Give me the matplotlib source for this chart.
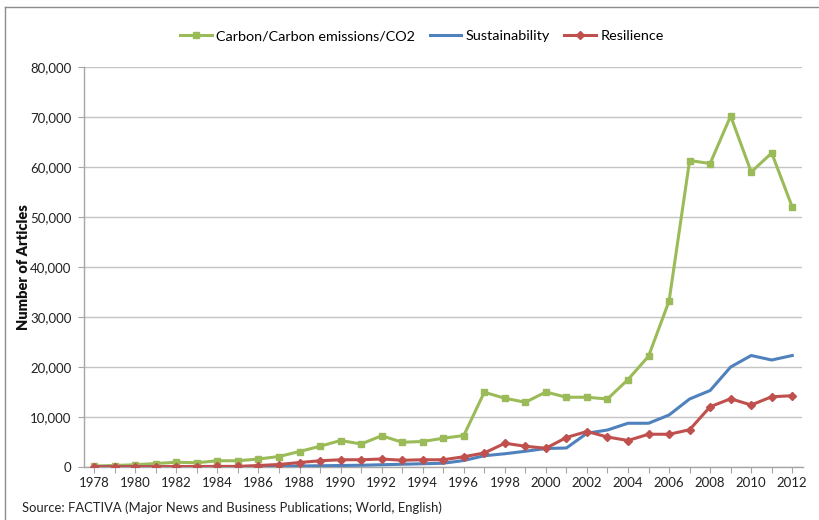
import matplotlib
matplotlib.use("Agg")
import matplotlib.pyplot as plt
from matplotlib.lines import Line2D
from matplotlib.ticker import FuncFormatter, FixedLocator

plt.rcParams['font.family'] = ['Lato', 'DejaVu Sans']

years = list(range(1978, 2013))

carbon = [200, 300, 450, 700, 950, 850, 1250, 1250, 1600, 2100, 3100, 4150, 5300, 4600,
          6250, 4950, 5100, 5750, 6300, 14950, 13750, 12950, 15000, 13950, 13950, 13600,
          17500, 22150, 33200, 61300, 60700, 70200, 59000, 62800, 52000]
sustainability = [50, 50, 50, 50, 50, 50, 60, 70, 100, 150, 200, 250, 300, 350,
                  450, 550, 650, 750, 1300, 2250, 2650, 3150, 3700, 3800, 6750, 7400,
                  8750, 8750, 10400, 13600, 15300, 20000, 22300, 21400, 22300]
resilience = [50, 50, 60, 70, 100, 100, 120, 120, 300, 500, 900, 1250, 1450, 1450,
              1600, 1350, 1450, 1450, 2050, 2800, 4750, 4150, 3750, 5900, 7100, 6000,
              5300, 6550, 6550, 7450, 12050, 13650, 12400, 14050, 14250]

series_names = ["Carbon/Carbon emissions/CO2", "Sustainability", "Resilience"]
source_note = "Source: FACTIVA (Major News and Business Publications; World, English)"

green = "#9BBB59"
blue = "#4F81BD"
red = "#C0504D"

fig = plt.figure(figsize=(8.2, 5.2), dpi=100)
ax = fig.add_axes([84 / 820, 1 - 467 / 520, (802.5 - 84) / 820, (467 - 67) / 520])

ax.plot(years, carbon, color=green, lw=2.2, marker="s", ms=5, mec=green, mfc=green,
        label=series_names[0], zorder=3)
ax.plot(years, sustainability, color=blue, lw=2.2, label=series_names[1], zorder=3)
ax.plot(years, resilience, color=red, lw=2.2, marker="D", ms=4.5, mec=red, mfc=red,
        label=series_names[2], zorder=4)

ax.set_xlim(1977.5, 2012.5)
ax.set_ylim(0, 80000)
ax.yaxis.set_major_locator(FixedLocator(range(0, 80001, 10000)))
ax.yaxis.set_major_formatter(FuncFormatter(lambda v, p: f"{int(v):,}"))
ax.set_xticks(years)
ax.set_xticklabels([str(y) if (y - 1978) % 2 == 0 else "" for y in years])

ax.grid(axis="y", color="#C4C4C4", lw=1.0, zorder=0)
ax.set_axisbelow(True)
for s in ["top", "right"]:
    ax.spines[s].set_visible(False)
for s in ["left", "bottom"]:
    ax.spines[s].set_color("#A6A6A6")
    ax.spines[s].set_linewidth(1.0)

ax.tick_params(axis="y", direction="out", length=4, color="#A6A6A6", labelsize=9.5,
               labelcolor="#222222", pad=5)
ax.tick_params(axis="x", direction="out", length=4, color="#A6A6A6", labelsize=9.5,
               labelcolor="#222222", pad=3)

ax.set_ylabel("Number of Articles", fontsize=10.5, fontweight="heavy", labelpad=0,
              color="#111111")

handles, labels = ax.get_legend_handles_labels()
fig.legend(handles, labels, loc="center", bbox_to_anchor=(422 / 820, 1 - 36 / 520),
           ncol=3, frameon=False, fontsize=10.4, handlelength=2.2, handletextpad=0.3,
           columnspacing=1.0, borderaxespad=0)

fig.text(22 / 820, 1 - 512 / 520, source_note, fontsize=9.4, color="#222222",
         ha="left", va="baseline")

# outer chart frame (top and left edges)
fig.add_artist(Line2D([5.5 / 820, 1.0], [1 - 6.5 / 520, 1 - 6.5 / 520],
                      transform=fig.transFigure, color="#8C8C8C", lw=1.0))
fig.add_artist(Line2D([5.5 / 820, 5.5 / 820], [0.0, 1 - 6.5 / 520],
                      transform=fig.transFigure, color="#8C8C8C", lw=1.0))

fig.savefig("out.png", dpi=100, facecolor="white")
